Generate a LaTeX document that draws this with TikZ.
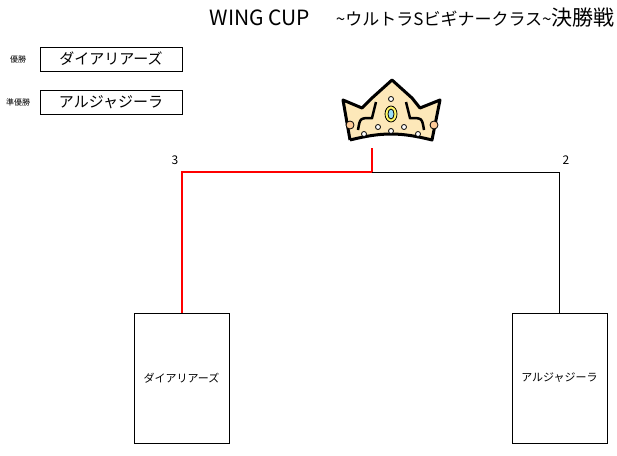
\documentclass[tikz,border=0pt]{standalone}
\usepackage{fontspec}
\setmainfont{Noto Sans CJK JP}
\begin{document}
\begin{tikzpicture}[x=1pt,y=-1pt,thick,
    team/.style={draw,thick,minimum width=95pt,minimum height=130pt,inner sep=0pt,font=\fontsize{11}{13}\selectfont},
    result/.style={draw,minimum width=142pt,minimum height=24pt,inner sep=0pt,font=\fontsize{15}{17}\selectfont},
    gem/.style={fill=white,draw=black,line width=0.8pt}]
    \useasboundingbox (0,0) rectangle (617,455);
    \node[anchor=east,inner sep=0pt] (title) at (615,18) {\fontsize{21}{24}\selectfont WING CUP\quad\ {\fontsize{17}{19}\selectfont\textasciitilde ウルトラSビギナークラス\textasciitilde}決勝戦};

    \node[font=\fontsize{8}{10}\selectfont] (winlabel) at (18,59) {優勝};
    \node[result] (winner) at (111,59) {ダイアリアーズ};
    \node[font=\fontsize{8}{10}\selectfont] (runlabel) at (18,102) {準優勝};
    \node[result] (runner) at (111,102) {アルジャジーラ};

    % crown
    \draw[fill=yellow!35!orange!25,line width=3pt,line join=round]
        (350,140) -- (343,100) -- (362,108) -- (372,98) -- (392,80) -- (412,98) -- (420,108) -- (440,100) -- (432,140)
        .. controls (400,132) and (382,132) .. (350,140);
    \draw[line width=2.5pt] (358,130) .. controls (360,118) .. (372,118) -- (376,102);
    \draw[line width=2.5pt] (424,130) .. controls (422,118) .. (410,118) -- (406,102);
    \draw[gem,fill=orange!40] (350,125) circle (4);
    \draw[gem,fill=orange!40] (434,125) circle (4);
    \draw[gem,fill=yellow!60] (391,114) ellipse (6 and 8);
    \draw[gem,fill=cyan!40] (391,114) ellipse (3 and 5);
    \foreach \p in {(391,99),(391,131),(378,127),(404,127),(364,134),(418,134)}
        \draw[gem] \p circle (2.5);

    \node[team] (left) at (181.5,378) {ダイアリアーズ};
    \node[team] (right) at (559.5,378) {アルジャジーラ};
    \coordinate (top) at (372,148);
    \coordinate (mid) at (372,172);
    \draw[red,line width=2pt] (top) -- (mid) -| (left.north);
    \draw (mid) -| (right.north);
    \node[font=\fontsize{12}{14}\selectfont] (scoreL) at (175,160) {3};
    \node[font=\fontsize{12}{14}\selectfont] (scoreR) at (566,160) {2};
\end{tikzpicture}
\end{document}
